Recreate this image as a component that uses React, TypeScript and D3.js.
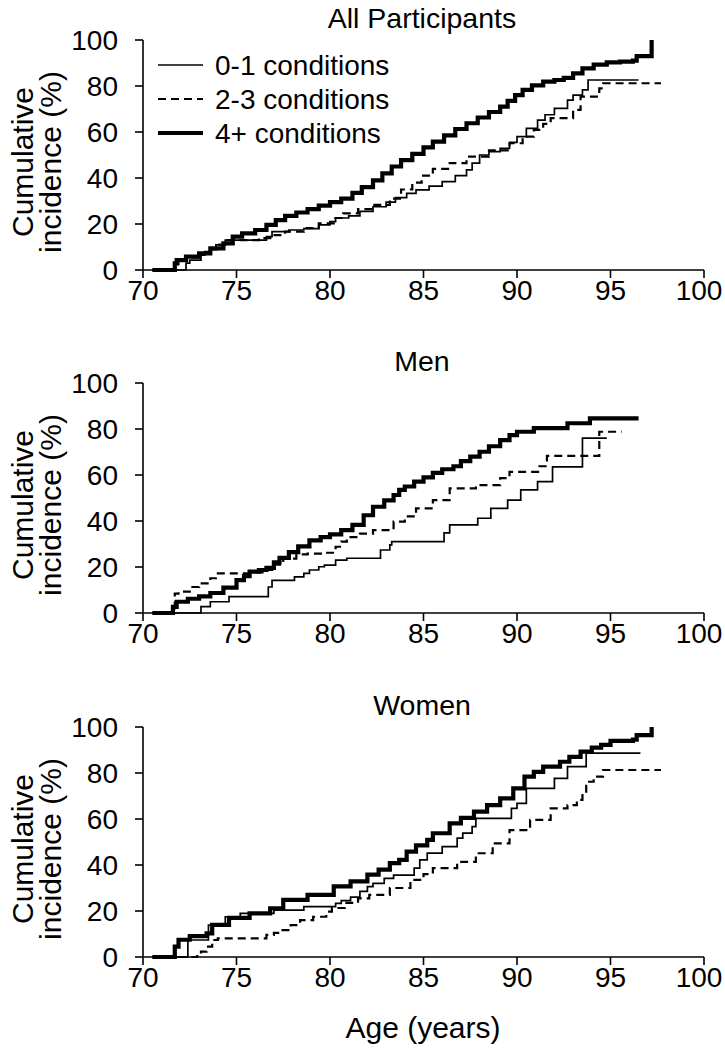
import React from "react";
import * as d3 from "d3";

type Pt = [number, number];

const xTicks = [70, 75, 80, 85, 90, 95, 100];
const yTicks = [0, 20, 40, 60, 80, 100];
const panelTitles = ["All Participants", "Men", "Women"];
const seriesNames = ["0-1 conditions", "2-3 conditions", "4+ conditions"];

// All participants
const all01: Pt[] = [[70.5,0],[72.3,3],[72.5,4.3],[73.1,6.5],[73.3,8],[73.6,9.4],[73.9,10.9],[74.4,13],[76.6,14.5],[76.9,16.7],[77.8,17.4],[78.6,18],[79.4,19.6],[80.0,21],[80.3,22.6],[81.0,23.5],[81.6,25.5],[82.3,27.5],[83.0,29.5],[83.5,31.5],[84.1,33.3],[84.6,34.8],[85.3,36.5],[86.0,38.4],[86.7,41],[87.3,43.5],[87.6,46.5],[88.0,50],[88.5,51.5],[89.1,52.9],[89.6,55.5],[90.0,58],[90.5,61.6],[91.1,65.2],[91.5,67.5],[92.0,70.3],[92.7,73.9],[93.0,76],[93.5,78.3],[93.8,82.6],[96.5,82.6]];
const all23: Pt[] = [[70.5,0],[71.7,2.5],[71.9,4],[72.3,5.5],[73.0,7],[73.6,9],[74.0,11],[74.4,13],[76.2,13.9],[76.9,15.2],[77.6,16.7],[78.6,18.2],[79.4,20.3],[80.2,22.6],[80.7,24.6],[81.5,26.5],[82.3,28.3],[83.2,31],[83.8,35],[84.4,38],[84.9,41],[85.5,44],[86.4,46.5],[87.3,49.3],[88.5,52],[89.6,55.1],[90.3,58],[90.9,60.9],[91.4,63.5],[91.8,66],[93.0,69.6],[93.4,75.4],[94.4,79],[94.6,81.2],[97.7,81.2]];
const all4: Pt[] = [[70.5,0],[71.7,2.9],[71.8,4.3],[72.3,5.8],[73.0,7.2],[73.6,9.4],[74.3,11.6],[74.8,14.5],[75.3,15.9],[76.0,17.4],[76.6,19.6],[77.1,21.7],[77.6,23.5],[78.2,25],[78.8,26.5],[79.4,28],[80.0,29.5],[80.6,31],[81.2,33.5],[81.7,36],[82.3,39],[82.8,42],[83.3,45],[83.8,47.8],[84.4,50.5],[85.0,53.3],[85.5,55.8],[86.1,58.5],[86.7,61.3],[87.3,63.8],[87.9,66.3],[88.5,68.7],[89.1,71],[89.5,73.5],[89.9,76],[90.3,78.3],[90.8,80.3],[91.4,81.9],[92.0,82.6],[92.5,83.5],[93.0,85.5],[93.5,87.7],[94.1,89.3],[94.8,90.3],[95.5,90.6],[96.2,91],[96.4,93],[97.2,100]];

// Men
const men01: Pt[] = [[70.5,0],[73.1,2.8],[73.6,4.9],[74.6,7.1],[76.7,11.3],[76.9,14.2],[78.1,15.7],[78.6,17.2],[78.9,18.7],[79.4,20.1],[79.7,20.8],[80.3,23],[80.9,23.8],[82.7,27.4],[83.2,29.6],[83.3,31],[86.1,34.8],[86.4,38.3],[87.9,41.2],[88.6,45.5],[89.5,49.1],[90.2,53.5],[91.1,57.1],[91.9,63.5],[93.5,76],[94.8,76]];
const men23: Pt[] = [[70.5,0],[71.7,8.4],[71.9,9.3],[72.5,11.3],[73.0,12.9],[73.6,15.1],[73.9,17.2],[76.0,17.6],[76.4,18.7],[77.0,21],[77.5,23.6],[78.2,25.5],[78.8,25.8],[79.6,26.2],[80.3,28.8],[80.6,31],[80.9,33],[81.6,34.5],[82.3,36],[83.4,39.7],[84.0,42],[84.6,45.5],[85.5,49.1],[86.4,54.2],[87.8,55.6],[89.1,58.6],[89.6,61.4],[91.2,63.8],[91.6,68.3],[94.4,78.8],[95.6,78.8]];
const men4: Pt[] = [[70.5,0],[71.6,2.7],[71.8,4.9],[72.4,6.2],[73.0,7.2],[73.6,8.7],[74.3,11],[75.0,14.3],[75.4,16],[75.7,18],[76.2,18.7],[76.6,19.6],[77.0,22],[77.3,24],[77.8,26.5],[78.3,29],[78.9,31.6],[79.5,33],[80.0,34.2],[80.6,36],[81.2,38.3],[81.8,42.5],[82.3,46.2],[82.9,49],[83.4,51.3],[83.7,53.5],[84.0,55],[84.5,57.1],[85.0,59],[85.5,60.9],[86.0,62.5],[86.6,63.8],[87.0,66],[87.5,68],[88.0,70.1],[88.5,72.5],[89.1,75.2],[89.6,77.3],[90.0,78.8],[90.9,80.4],[92.7,82.5],[93.9,84.6],[96.5,84.6]];

// Women
const women01: Pt[] = [[70.5,0],[72.4,7.4],[73.5,13.9],[74.4,17.5],[75.2,19],[77.0,20.4],[78.6,21.9],[80.3,23.3],[80.6,24.5],[81.1,26],[81.6,28.5],[82.0,30.6],[82.3,32],[82.9,34.2],[83.4,35.6],[84.5,38.6],[84.8,42.2],[85.2,45.2],[86.0,48],[86.8,51.7],[87.1,53.9],[87.6,56.7],[87.8,60.3],[89.7,64.6],[90.0,66.8],[90.5,73.3],[92.0,77.7],[92.7,82.8],[93.7,88.6],[96.6,88.6]];
const women23: Pt[] = [[70.5,0],[72.9,1],[73.1,2.3],[73.4,4.5],[73.7,7.4],[74.0,8.1],[76.6,9.6],[77.0,10.5],[77.3,11.7],[77.9,13.9],[78.4,16],[79.1,17.5],[79.8,19.7],[80.1,21.3],[80.8,23.5],[81.5,25.5],[82.1,27],[83.2,30],[84.3,33.5],[85.0,36],[85.5,38.6],[86.8,41.4],[87.8,45.1],[88.7,49.4],[89.6,55.2],[90.7,59.6],[91.8,64.6],[92.7,66],[93.2,68.3],[93.5,71],[93.7,76.2],[94.1,78.4],[94.6,81.3],[97.7,81.3]];
const women4: Pt[] = [[70.5,0],[71.7,4.5],[71.9,7.5],[72.5,9.1],[73.4,10.3],[73.7,14],[74.6,17],[75.7,19],[76.8,21.2],[77.5,24.8],[78.8,27],[80.2,30.7],[81.1,32.9],[82.0,35.8],[82.6,38],[83.2,40.8],[83.7,42.2],[84.1,45.8],[84.6,48.5],[85.2,50.9],[85.5,53.8],[86.4,58.1],[87.0,60.5],[87.7,63.2],[88.4,66],[89.1,69],[89.8,73.3],[90.4,78.4],[90.9,80.5],[91.4,82.8],[92.3,84.9],[92.8,87],[93.4,89.3],[94.0,91],[94.5,92.2],[95.0,94],[96.2,94.5],[96.4,96.5],[97.2,100]];

const panelData: Pt[][][] = [
  [all01, all23, all4],
  [men01, men23, men4],
  [women01, women23, women4],
];

const W = 725;
const H = 1050;
const FONT = "Liberation Sans, Arial, sans-serif";
const left = 143;
const right = 704;
const panelTops = [40, 383, 727];
const panelH = 230;

const styles = [
  { width: 1.7, dash: "" },
  { width: 2.2, dash: "8,5" },
  { width: 4.2, dash: "" },
];

function Panel({ idx }: { idx: number }) {
  const top = panelTops[idx];
  const bottom = top + panelH;
  const x = d3.scaleLinear().domain([70, 100]).range([left, right]);
  const y = d3.scaleLinear().domain([0, 100]).range([bottom, top]);
  const line = d3
    .line<Pt>()
    .x((d) => x(d[0]))
    .y((d) => y(d[1]))
    .curve(d3.curveStepAfter);
  const mid = (top + bottom) / 2 + 7;
  return (
    <g>
      <text x={422} y={top - 12} textAnchor="middle" fontSize={28.5} fontFamily={FONT}>
        {panelTitles[idx]}
      </text>
      <text transform={`translate(33,${mid}) rotate(-90)`} textAnchor="middle" fontSize={30} fontFamily={FONT}>
        Cumulative
      </text>
      <text transform={`translate(61,${mid}) rotate(-90)`} textAnchor="middle" fontSize={30} fontFamily={FONT}>
        incidence (%)
      </text>
      <line x1={left} x2={left} y1={top} y2={bottom} stroke="#000" strokeWidth={1.6} />
      <line x1={left} x2={right} y1={bottom} y2={bottom} stroke="#000" strokeWidth={1.6} />
      {yTicks.map((t) => (
        <g key={"y" + t}>
          <line x1={left - 8} x2={left} y1={y(t)} y2={y(t)} stroke="#000" strokeWidth={1.6} />
          <text x={118} y={y(t) + 10} textAnchor="end" fontSize={28} fontFamily={FONT}>
            {t}
          </text>
        </g>
      ))}
      {xTicks.map((t) => (
        <g key={"x" + t}>
          <line x1={x(t)} x2={x(t)} y1={bottom} y2={bottom + 8} stroke="#000" strokeWidth={1.6} />
          <text x={Math.min(x(t), 699)} y={bottom + 30} textAnchor="middle" fontSize={28} fontFamily={FONT}>
            {t}
          </text>
        </g>
      ))}
      {panelData[idx].map((s, i) => (
        <path
          key={i}
          d={line(s) || ""}
          fill="none"
          stroke="#000"
          strokeWidth={styles[i].width}
          strokeDasharray={styles[i].dash}
        />
      ))}
      {idx === 0 &&
        seriesNames.map((n, i) => (
          <g key={n}>
            <line
              x1={158}
              x2={203}
              y1={65 + i * 34}
              y2={65 + i * 34}
              stroke="#000"
              strokeWidth={styles[i].width}
              strokeDasharray={styles[i].dash}
            />
            <text x={215} y={65 + i * 34 + 10} fontSize={28} fontFamily={FONT}>
              {n}
            </text>
          </g>
        ))}
    </g>
  );
}

export default function App() {
  return (
    <svg
      width={W}
      height={H}
      style={{ position: "absolute", left: 0, top: 0, background: "#fff" }}
    >
      <rect width={W} height={H} fill="#fff" />
      {[0, 1, 2].map((i) => (
        <Panel key={i} idx={i} />
      ))}
      <text x={423} y={1038} textAnchor="middle" fontSize={30} fontFamily={FONT}>
        Age (years)
      </text>
    </svg>
  );
}
